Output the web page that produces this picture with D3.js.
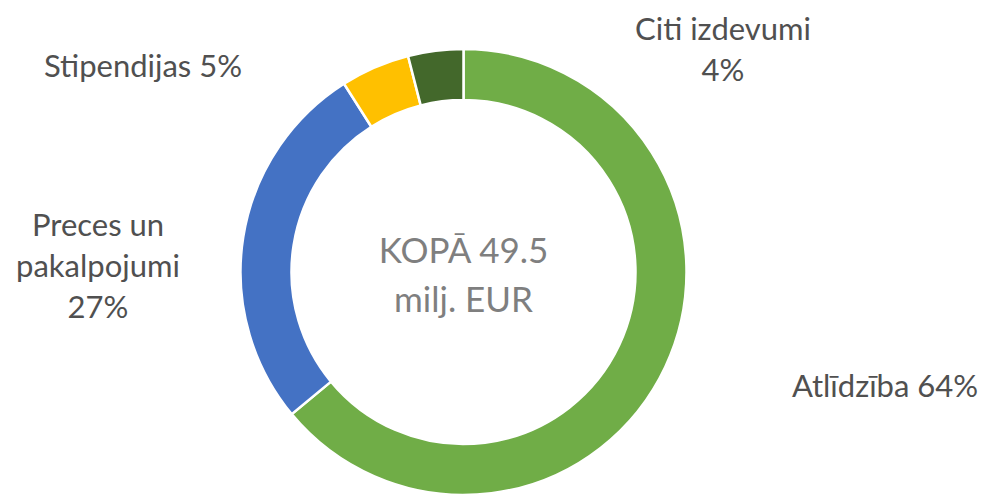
<!DOCTYPE html>
<html>
<head>
<meta charset="utf-8">
<script src="https://cdn.jsdelivr.net/npm/d3@7"></script>
<style>
  html, body { margin: 0; padding: 0; background: #fff; }
  svg { display: block; }
  text { font-family: Lato, "Open Sans", sans-serif; }
</style>
</head>
<body>
<svg id="chart" width="981" height="494"></svg>
<script>
// Izdevumu struktūra (%), kopā 49.5 milj. EUR
const categories = ["Atlīdzība", "Preces un pakalpojumi", "Stipendijas", "Citi izdevumi"];
const shares = [64, 27, 5, 4];
const colors = ["#70AD47", "#4472C4", "#FFC000", "#43682B"];
const totalLabel = ["KOPĀ 49.5", "milj. EUR"];

// Label lines for each slice (category name split as drawn, then value)
const labelLines = [
  ["Atlīdzība " + shares[0] + "%"],
  ["Preces un", "pakalpojumi", shares[1] + "%"],
  ["Stipendijas " + shares[2] + "%"],
  ["Citi izdevumi", shares[3] + "%"]
];
// Label anchor positions (first baseline)
const labelPos = [
  { x: 885, y: 397 },
  { x: 98, y: 236 },
  { x: 143, y: 77 },
  { x: 723, y: 40 }
];

const svg = d3.select("#chart");
const cx = 463.5, cy = 272;
const outerR = 223, innerR = 172;

const pie = d3.pie().sort(null).value(d => d.value);
const arc = d3.arc().innerRadius(innerR).outerRadius(outerR);

const data = categories.map((c, i) => ({ name: c, value: shares[i], color: colors[i] }));

const g = svg.append("g").attr("transform", `translate(${cx},${cy})`);
g.selectAll("path")
  .data(pie(data))
  .join("path")
  .attr("d", arc)
  .attr("fill", d => d.data.color)
  .attr("stroke", "#fff")
  .attr("stroke-width", 2.5)
  .attr("stroke-linejoin", "miter");

// Centre caption
g.selectAll("text.total")
  .data(totalLabel)
  .join("text")
  .attr("class", "total")
  .attr("x", 0)
  .attr("y", (d, i) => -9 + i * 49)
  .attr("text-anchor", "middle")
  .attr("fill", "#7F7F7F")
  .attr("font-size", 35)
  .text(d => d);

// Slice labels
const lg = svg.append("g");
labelLines.forEach((lines, i) => {
  const t = lg.append("text")
    .attr("x", labelPos[i].x)
    .attr("y", labelPos[i].y)
    .attr("text-anchor", "middle")
    .attr("fill", "#505050")
    .attr("font-size", 31);
  lines.forEach((ln, j) => {
    t.append("tspan")
      .attr("x", labelPos[i].x)
      .attr("dy", j === 0 ? 0 : 41)
      .text(ln);
  });
});
</script>
</body>
</html>
